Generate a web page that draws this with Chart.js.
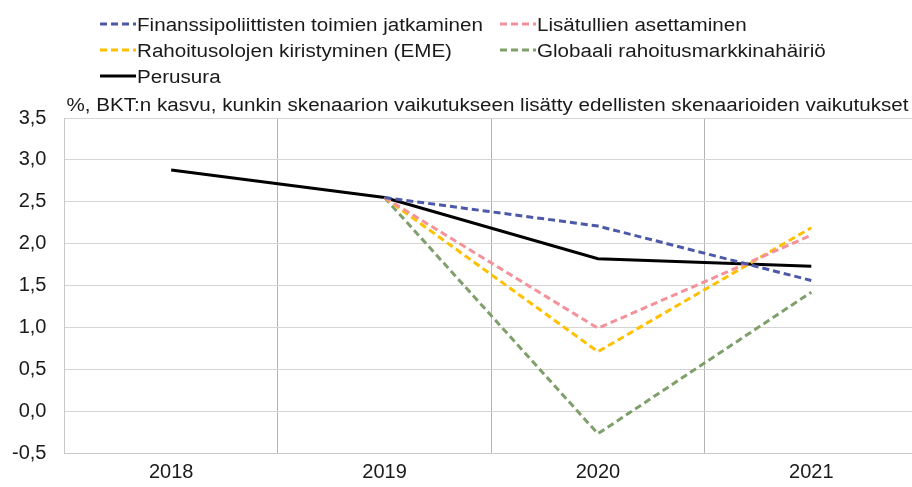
<!DOCTYPE html>
<html>
<head>
<meta charset="utf-8">
<script src="https://cdn.jsdelivr.net/npm/chart.js@4/dist/chart.umd.min.js"></script>
<style>
  html, body { margin: 0; padding: 0; background: #fff; overflow: hidden; }
  #wrap { width: 918px; height: 487px; }
</style>
</head>
<body>
<div id="wrap"><canvas id="gdpChart" width="918" height="487"></canvas></div>
<script>
// Chart data
const years = ["2018", "2019", "2020", "2021"];
const perusura = [2.88, 2.55, 1.82, 1.73];
const finanssipoliittiset = [null, 2.55, 2.21, 1.56];
const lisatullit = [null, 2.55, 0.99, 2.10];
const rahoitusolot = [null, 2.55, 0.71, 2.19];
const globaaliHairio = [null, 2.55, -0.27, 1.42];
const yTicks = [-0.5, 0, 0.5, 1, 1.5, 2, 2.5, 3, 3.5];

const subtitle = "%, BKT:n kasvu, kunkin skenaarion vaikutukseen lisätty edellisten skenaarioiden vaikutukset";
const FONT = "'Liberation Sans', Arial, sans-serif";
const STRETCH = 1.145; // source text is a bit wider than it is tall

// legend slots: dataset index -> [x, baseline y]; the sample line sits 7px above the baseline
const legendSlots = [[100, 31], [500, 31], [100, 57], [500, 57], [100, 83]];

function wideText(ctx, text, x, y) {
    ctx.save();
    ctx.translate(x, y);
    ctx.scale(STRETCH, 1);
    ctx.fillText(text, 0, 0);
    ctx.restore();
}

const headerPlugin = {
    id: "header",
    afterDraw(chart) {
        const ctx = chart.ctx;
        ctx.save();
        ctx.fillStyle = "#1a1a1a";
        ctx.textBaseline = "alphabetic";
        ctx.textAlign = "left";
        ctx.font = "18px " + FONT;
        wideText(ctx, subtitle, chart.chartArea.left + 2, 110.5);

        chart.data.datasets.forEach((ds, i) => {
            const [x, y] = legendSlots[i];
            ctx.strokeStyle = ds.borderColor;
            ctx.lineWidth = 3;
            ctx.setLineDash(ds.borderDash || []);
            ctx.beginPath();
            ctx.moveTo(x, y - 7);
            ctx.lineTo(x + 36, y - 7);
            ctx.stroke();
            ctx.setLineDash([]);
            wideText(ctx, ds.label, x + 37, y);
        });
        ctx.restore();
    }
};

const dashed = [7, 4];
const ctx = document.getElementById("gdpChart").getContext("2d");
new Chart(ctx, {
    type: "line",
    data: {
        labels: years,
        datasets: [
            { label: "Finanssipoliittisten toimien jatkaminen", data: finanssipoliittiset, borderColor: "#4b59a8", borderDash: dashed },
            { label: "Lisätullien asettaminen", data: lisatullit, borderColor: "#f3929b", borderDash: dashed },
            { label: "Rahoitusolojen kiristyminen (EME)", data: rahoitusolot, borderColor: "#ffc000", borderDash: dashed },
            { label: "Globaali rahoitusmarkkinahäiriö", data: globaaliHairio, borderColor: "#7f9f6b", borderDash: dashed },
            { label: "Perusura", data: perusura, borderColor: "#000000" }
        ].map(ds => Object.assign(ds, { borderWidth: 3, pointRadius: 0, fill: false, tension: 0, spanGaps: false }))
    },
    options: {
        responsive: false,
        animation: false,
        events: [],
        layout: { padding: { top: 118, bottom: -4, left: -6, right: 0 } },
        plugins: { legend: { display: false }, tooltip: { enabled: false }, title: { display: false } },
        scales: {
            x: {
                offset: true,
                grid: { offset: true, color: "#b4b4b4", lineWidth: 1, drawTicks: false },
                border: { color: "#c8c8c8" },
                ticks: { color: "#1a1a1a", font: { family: FONT, size: 20 }, padding: 7 }
            },
            y: {
                min: -0.5,
                max: 3.5,
                afterBuildTicks(scale) { scale.ticks = yTicks.map(v => ({ value: v })); },
                grid: { color: "#d4d4d4", lineWidth: 1, drawTicks: false },
                border: { color: "#c8c8c8" },
                ticks: {
                    color: "#1a1a1a",
                    font: { family: FONT, size: 20 },
                    padding: 18,
                    callback: v => v.toFixed(1).replace(".", ",")
                }
            }
        }
    },
    plugins: [headerPlugin]
});
</script>
</body>
</html>
